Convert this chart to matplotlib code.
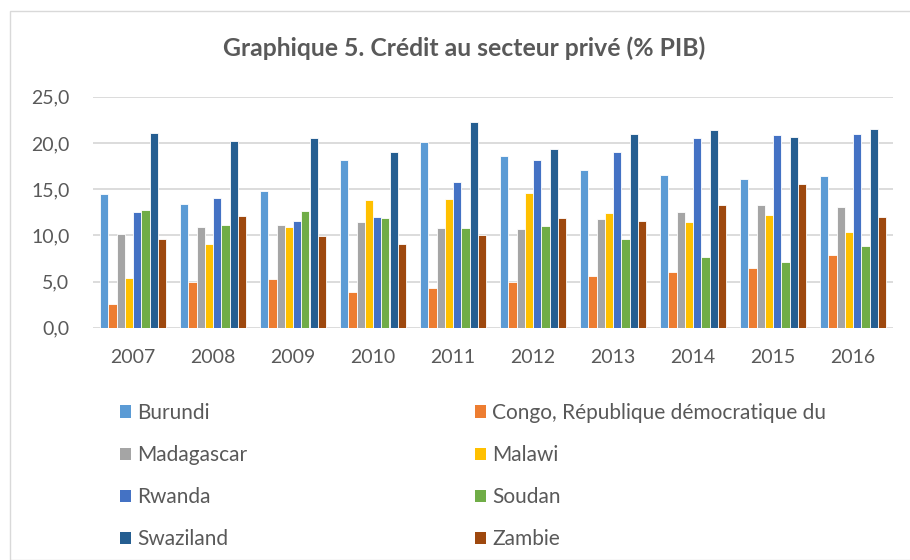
import matplotlib
matplotlib.use("Agg")
import matplotlib.pyplot as plt
import numpy as np
from matplotlib.patches import Rectangle, Patch

plt.rcParams['font.family'] = ['Lato', 'DejaVu Sans']

years = ["2007", "2008", "2009", "2010", "2011", "2012", "2013", "2014", "2015", "2016"]

burundi = [14.5, 13.4, 14.8, 18.1, 20.1, 18.6, 17.1, 16.5, 16.1, 16.4]
congo = [2.6, 5.0, 5.3, 3.9, 4.3, 5.0, 5.6, 6.0, 6.5, 7.9]
madagascar = [10.1, 10.9, 11.1, 11.4, 10.8, 10.7, 11.8, 12.5, 13.3, 13.1]
malawi = [5.4, 9.1, 10.9, 13.8, 13.9, 14.6, 12.4, 11.4, 12.2, 10.4]
rwanda = [12.5, 14.0, 11.5, 12.0, 15.8, 18.2, 19.0, 20.5, 20.9, 21.0]
soudan = [12.7, 11.1, 12.6, 11.9, 10.8, 11.0, 9.6, 7.6, 7.1, 8.8]
swaziland = [21.1, 20.2, 20.5, 19.0, 22.3, 19.3, 21.0, 21.4, 20.6, 21.5]
zambie = [9.6, 12.1, 9.9, 9.1, 10.0, 11.9, 11.6, 13.3, 15.6, 12.0]

names = ["Burundi", "Congo, République démocratique du", "Madagascar", "Malawi",
         "Rwanda", "Soudan", "Swaziland", "Zambie"]
series = [burundi, congo, madagascar, malawi, rwanda, soudan, swaziland, zambie]
colors = ['#5B9BD5', '#ED7D31', '#A5A5A5', '#FFC000', '#4472C4', '#70AD47', '#255E91', '#9E480E']

fig = plt.figure(figsize=(9.1, 5.6), dpi=100)
W, H = 910, 560

# chart frame
fig.patches.append(Rectangle((10 / W, 0), 1.0, 1 - 11 / H, transform=fig.transFigure,
                             fill=False, edgecolor='#D9D9D9', linewidth=1.0))

ax = fig.add_axes([93 / W, 1 - 327.7 / H, 800 / W, 231 / H])

x = np.arange(len(years))
slot = 0.825 / len(series)
for i, (vals, c) in enumerate(zip(series, colors)):
    ax.bar(x - 0.4125 + slot * (i + 0.5), vals, width=slot, color=c,
           edgecolor='white', linewidth=0.6, zorder=3)

ax.set_xlim(-0.5, len(years) - 0.5)
ax.set_ylim(0, 25)
ax.set_yticks([0, 5, 10, 15, 20, 25])
ax.set_yticklabels([f"{v:.1f}".replace(".", ",") for v in [0, 5, 10, 15, 20, 25]])
ax.set_xticks(x)
ax.set_xticklabels(years)
ax.grid(axis='y', color='#D9D9D9', linewidth=1.3, zorder=0)
for s in ax.spines.values():
    s.set_visible(False)
ax.tick_params(axis='both', length=0, labelsize=14, labelcolor='#595959')
ax.tick_params(axis='y', pad=17)
ax.tick_params(axis='x', pad=15)

fig.text(464 / W, 1 - 48 / H, "Graphique 5. Crédit au secteur privé (% PIB)",
         ha='center', va='center', fontsize=17.8, fontweight='bold', color='#595959')

handles = [Patch(facecolor=c, edgecolor='none') for c in colors]
leg_kw = dict(frameon=False, fontsize=15, handlelength=0.53, handleheight=0.53,
              handletextpad=0.3, labelspacing=1.06, labelcolor='#595959',
              borderpad=0, borderaxespad=0, loc='upper left')
fig.legend(handles[0::2], names[0::2], bbox_to_anchor=(120 / W, 1 - 403 / H), **leg_kw)
fig.legend(handles[1::2], names[1::2], bbox_to_anchor=(475 / W, 1 - 403 / H), **leg_kw)

fig.savefig("out.png", dpi=100)
